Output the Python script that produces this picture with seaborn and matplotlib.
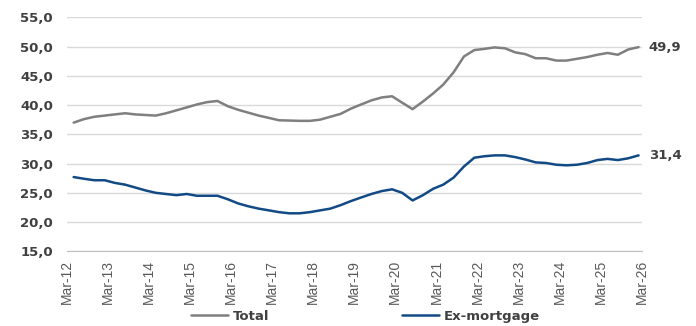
import numpy as np
import pandas as pd
import seaborn as sns
import matplotlib.pyplot as plt
import matplotlib.dates as mdates
from matplotlib.ticker import FuncFormatter

# quarterly readings, May-12 .. Feb-26
dates = pd.date_range('2012-05-01', '2026-02-01', freq='3MS')

total = [37.0, 37.6, 38.0, 38.2, 38.4, 38.6, 38.4, 38.3, 38.2, 38.6,
         39.1, 39.6, 40.1, 40.5, 40.7, 39.8, 39.2, 38.7, 38.2, 37.8,
         37.4, 37.35, 37.3, 37.3, 37.5, 38.0, 38.5, 39.4, 40.1, 40.8,
         41.3, 41.5, 40.4, 39.3, 40.6, 42.0, 43.5, 45.6, 48.3, 49.4,
         49.6, 49.85, 49.7, 49.0, 48.7, 48.0, 48.0, 47.6, 47.6, 47.9,
         48.2, 48.6, 48.9, 48.6, 49.5, 49.9]

ex_mortgage = [27.7, 27.4, 27.15, 27.15, 26.7, 26.4, 25.9, 25.4, 25.0, 24.8,
               24.6, 24.8, 24.5, 24.5, 24.5, 23.9, 23.2, 22.7, 22.3, 22.0,
               21.7, 21.5, 21.5, 21.7, 22.0, 22.3, 22.9, 23.6, 24.2, 24.8,
               25.3, 25.6, 25.0, 23.7, 24.6, 25.7, 26.4, 27.6, 29.5, 31.0,
               31.25, 31.4, 31.4, 31.1, 30.7, 30.2, 30.1, 29.8, 29.7, 29.8,
               30.1, 30.6, 30.8, 30.6, 30.9, 31.4]

series_names = ['Total', 'Ex-mortgage']
colors = ['#7f7f7f', '#124a85']

df = pd.DataFrame({'date': list(dates) * 2,
                   'value': total + ex_mortgage,
                   'series': [series_names[0]] * len(dates) + [series_names[1]] * len(dates)})

sns.set_style('white')
plt.rcParams['font.family'] = ['DejaVu Sans']
txt = '#404040'

fig = plt.figure(figsize=(6.96, 3.26), dpi=100)
ax = fig.add_axes([0.096, 0.229, 0.826, 0.718])

sns.lineplot(data=df, x='date', y='value', hue='series', palette=colors,
             linewidth=1.8, ax=ax, legend=False)

ax.set_ylim(15, 55)
ax.set_yticks(np.arange(15, 56, 5))
ax.yaxis.set_major_formatter(FuncFormatter(lambda v, p: '{:.1f}'.format(v).replace('.', ',')))
ax.set_xlim(pd.Timestamp('2012-03-01'), pd.Timestamp('2026-03-01'))
ax.set_xticks(pd.date_range('2012-03-01', '2026-03-01', freq='12MS'))
ax.xaxis.set_major_formatter(mdates.DateFormatter('Mar-%y'))
ax.grid(axis='y', color='#d9d9d9', linewidth=1.0)
ax.set_axisbelow(True)
for s in ['top', 'right', 'left']:
    ax.spines[s].set_visible(False)
ax.spines['bottom'].set_color('#bfbfbf')
ax.tick_params(axis='x', length=4, color='#bfbfbf', pad=2, labelrotation=90,
               labelsize=10, labelcolor='#595959')
ax.tick_params(axis='y', length=0, pad=10, labelsize=9.5, labelcolor=txt)
for lab in ax.get_yticklabels():
    lab.set_fontweight('bold')
for lab in ax.get_xticklabels():
    lab.set_fontfamily(['Liberation Sans Narrow', 'Liberation Sans', 'DejaVu Sans'])
ax.set_xlabel('')
ax.set_ylabel('')

ax.text(1.012, total[-1], '49,9', transform=ax.get_yaxis_transform(),
        va='center', ha='left', fontsize=9.5, color=txt, fontweight='bold')
ax.text(1.012, ex_mortgage[-1], '31,4', transform=ax.get_yaxis_transform(),
        va='center', ha='left', fontsize=9.5, color=txt, fontweight='bold')

handles = [plt.Line2D([], [], color=c, linewidth=1.8) for c in colors]
leg = fig.legend(handles, series_names, loc='center', bbox_to_anchor=(0.525, 0.03),
                 ncol=2, frameon=False, handlelength=2.8, columnspacing=10,
                 handletextpad=0.4, prop={'size': 9.5, 'weight': 'bold'})
for t in leg.get_texts():
    t.set_color(txt)

plt.savefig('out.png', dpi=100)
